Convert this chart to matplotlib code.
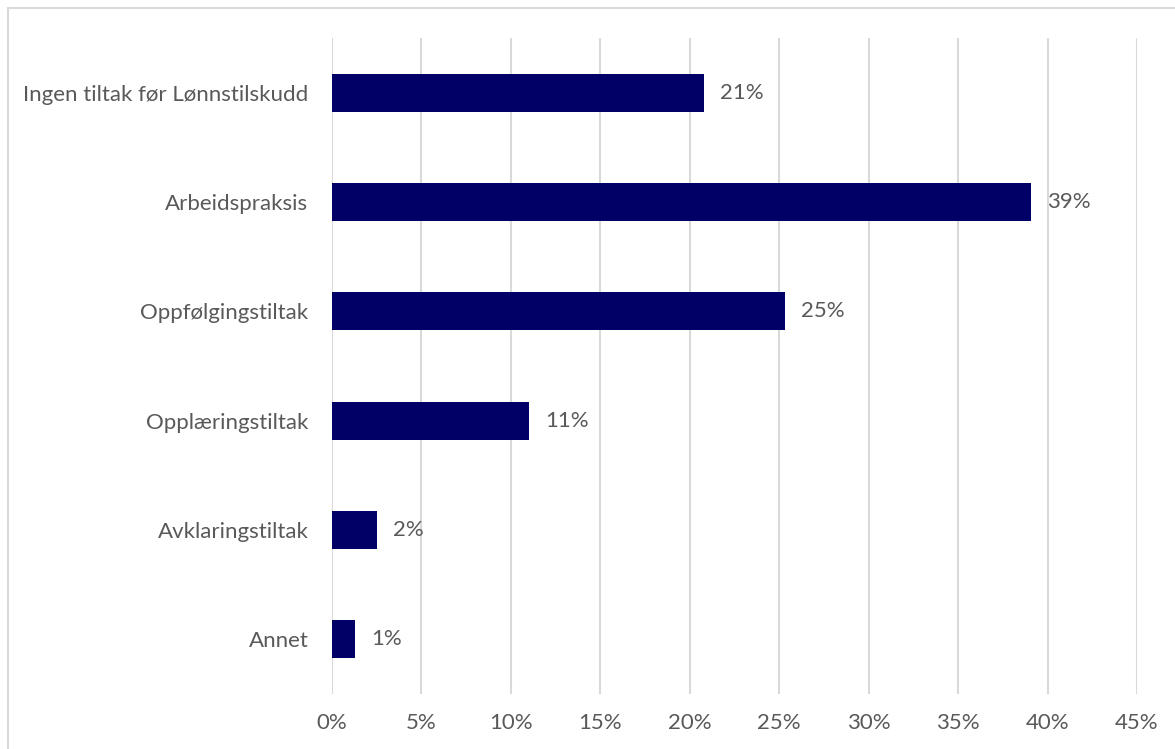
import matplotlib
matplotlib.use("Agg")
import matplotlib.pyplot as plt
from matplotlib.lines import Line2D
from matplotlib.ticker import MultipleLocator, FuncFormatter

categories = [
    "Ingen tiltak før Lønnstilskudd",
    "Arbeidspraksis",
    "Oppfølgingstiltak",
    "Opplæringstiltak",
    "Avklaringstiltak",
    "Annet",
]
shares = [20.8, 39.1, 25.3, 11.0, 2.5, 1.3]  # percent

BAR = "#000066"
TEXT = "#595959"
GRID = "#d9d9d9"
FS = 16

plt.rcParams["font.family"] = ["Lato", "DejaVu Sans"]

W, H = 1175, 749
fig = plt.figure(figsize=(W / 100, H / 100), dpi=100)
ax = fig.add_axes([332 / W, 1 - 694 / H, (1137 - 332) / W, (694 - 38) / H])

ypos = list(range(len(categories)))
ax.barh(ypos, shares, height=0.35, color=BAR, zorder=3)
for y, v in zip(ypos, shares):
    ax.annotate(f"{v:.0f}%", (v, y), xytext=(11.5, 0), textcoords="offset points",
                va="center", ha="left", fontsize=FS, color=TEXT)

ax.set_xlim(0, 45)
ax.set_ylim(len(categories) - 0.5, -0.5)
ax.set_yticks(ypos)
ax.set_yticklabels(categories)
ax.xaxis.set_major_locator(MultipleLocator(5))
ax.xaxis.set_major_formatter(FuncFormatter(lambda x, _: f"{x:.0f}%"))
ax.tick_params(axis="both", length=0, labelsize=FS, colors=TEXT)
ax.tick_params(axis="x", pad=14)
ax.tick_params(axis="y", pad=17)
ax.grid(axis="x", color=GRID, linewidth=1.5, zorder=0)
for s in ax.spines.values():
    s.set_visible(False)

# light frame along the top and left edges
fig.add_artist(Line2D([8 / W, 1], [1 - 8 / H, 1 - 8 / H], color=GRID, linewidth=1.5,
                      transform=fig.transFigure))
fig.add_artist(Line2D([8 / W, 8 / W], [0, 1 - 8 / H], color=GRID, linewidth=1.5,
                      transform=fig.transFigure))

fig.savefig("out.png", dpi=100, facecolor="white")
